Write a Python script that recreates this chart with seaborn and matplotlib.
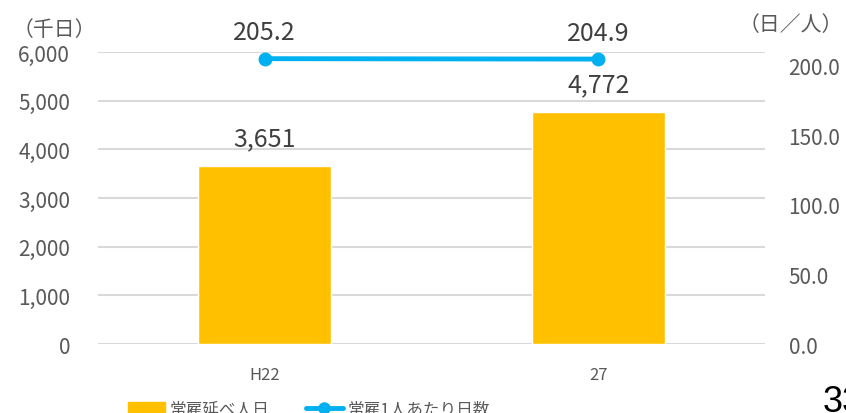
import matplotlib.pyplot as plt
import pandas as pd
import seaborn as sns
from matplotlib.patches import Patch
from matplotlib.lines import Line2D

years = ["H22", "27"]
person_days = [3651, 4772]        # 常雇延べ人日 (千日)
days_per_person = [205.2, 204.9]  # 常雇1人あたり日数 (日／人)

df = pd.DataFrame({"year": years, "days": person_days, "per": days_per_person})

bar_color = "#FFC000"
line_color = "#00B0F0"
text_color = "#595959"
label_color = "#404040"
grid_color = "#D9D9D9"

sns.set_style("white")
plt.rcParams["font.family"] = ["Noto Sans CJK JP", "DejaVu Sans"]

fig = plt.figure(figsize=(8.46, 4.14), dpi=100)
ax = fig.add_axes([98 / 846, 1 - 345 / 414, (765 - 98) / 846, (345 - 53) / 414])

sns.barplot(df, x="year", y="days", color=bar_color, width=0.4, saturation=1, ax=ax)
ax.set_ylim(0, 6000)
ax.set_xlim(-0.5, 1.5)
ax.set_yticks(range(0, 6001, 1000))
ax.set_yticklabels([f"{v:,}" for v in range(0, 6001, 1000)])
ax.yaxis.grid(True, color=grid_color, linewidth=1.5)
ax.set_axisbelow(True)
for s in ax.spines.values():
    s.set_visible(False)
ax.tick_params(axis="y", length=0, pad=20, labelsize=15, labelcolor=text_color)
ax.tick_params(axis="x", length=0, pad=16, labelsize=12, labelcolor=text_color)
ax.set_xlabel("")
ax.set_ylabel("")
for i, v in enumerate(person_days):
    ax.annotate(f"{v:,}", (i, v), xytext=(0, 20), textcoords="offset points",
                ha="center", va="center", fontsize=18, color=label_color)

ax2 = ax.twinx()
sns.lineplot(df, x="year", y="per", color=line_color, linewidth=3.5, marker="o",
             markersize=10, markeredgewidth=0, sort=False, ax=ax2)
ax2.set_ylim(0, 210)
ax2.set_yticks(range(0, 201, 50))
ax2.set_yticklabels([f"{v:.1f}" for v in range(0, 201, 50)])
for s in ax2.spines.values():
    s.set_visible(False)
ax2.tick_params(axis="y", length=0, pad=17, labelsize=15, labelcolor=text_color)
ax2.set_ylabel("")
for i, v in enumerate(days_per_person):
    ax2.annotate(f"{v:.1f}", (i, v), xytext=(0, 19), textcoords="offset points",
                 ha="center", va="center", fontsize=18, color=label_color)

fig.text(13 / 846, 1 - 30 / 414, "（千日）", fontsize=15, color=text_color, va="center")
fig.text(739 / 846, 1 - 25 / 414, "（日／人）", fontsize=15, color=text_color, va="center")

handles = [Patch(color=bar_color), Line2D([0], [0], color=line_color, linewidth=3.5,
                                          marker="o", markersize=8)]
fig.legend(handles, ["常雇延べ人日", "常雇1人あたり日数"], loc="center",
           bbox_to_anchor=(309 / 846, 1 - 410 / 414), ncol=2, frameon=False,
           fontsize=12, labelcolor=text_color, handlelength=2.2, columnspacing=2.2,
           handletextpad=0.3)

fig.text(823 / 846, 1 - 385 / 414, "33", fontsize=26, color="black", va="top",
         family="Liberation Sans")

plt.savefig("out.png", dpi=100)
plt.close()
